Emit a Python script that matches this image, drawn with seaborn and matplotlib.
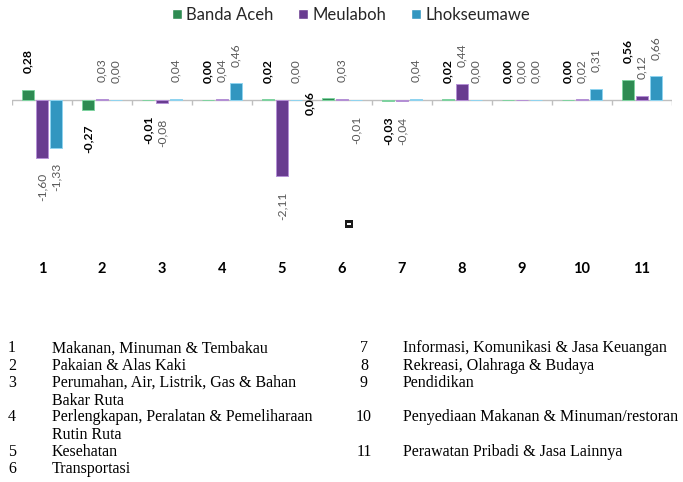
import numpy as np
import pandas as pd
import matplotlib
matplotlib.use("Agg")
import matplotlib.pyplot as plt
from matplotlib.patches import Rectangle
import seaborn as sns

# ---- data -------------------------------------------------------------
categories = ["1", "2", "3", "4", "5", "6", "7", "8", "9", "10", "11"]
series_names = ["Banda Aceh", "Meulaboh", "Lhokseumawe"]
banda_aceh = [0.28, -0.27, -0.01, 0.00, 0.02, 0.06, -0.03, 0.02, 0.00, 0.00, 0.56]
meulaboh = [-1.60, 0.03, -0.08, 0.04, -2.11, 0.03, -0.04, 0.44, 0.00, 0.02, 0.12]
lhokseumawe = [-1.33, 0.00, 0.04, 0.46, 0.00, -0.01, 0.04, 0.00, 0.00, 0.31, 0.66]

group_numbers = ["1", "2", "3", "4", "5", "6", "7", "8", "9", "10", "11"]
group_names = [
    "Makanan, Minuman & Tembakau",
    "Pakaian & Alas Kaki",
    "Perumahan, Air, Listrik, Gas & Bahan\nBakar Ruta",
    "Perlengkapan, Peralatan & Pemeliharaan\nRutin Ruta",
    "Kesehatan",
    "Transportasi",
    "Informasi, Komunikasi & Jasa Keuangan",
    "Rekreasi, Olahraga & Budaya",
    "Pendidikan",
    "Penyediaan Makanan & Minuman/restoran",
    "Perawatan Pribadi & Jasa Lainnya",
]

values = [banda_aceh, meulaboh, lhokseumawe]
df = pd.DataFrame({
    "kelompok": np.repeat([categories], 3, axis=0).ravel(),
    "kota": np.repeat(series_names, len(categories)),
    "inflasi": np.concatenate(values),
})

# ---- style ------------------------------------------------------------
sns.set_theme(style="white")
plt.rcParams["font.family"] = ["Lato", "DejaVu Sans"]

colors = ["#1E9B4E", "#6A2E9E", "#1A9FD8"]
edge_colors = ["#7FD3A0", "#B590D6", "#8FD4F0"]

W, H = 683, 482
fig = plt.figure(figsize=(W / 100, H / 100), dpi=100)

ax_left, ax_right, ax_top, ax_bottom = 12, 672, 30, 255
ax = fig.add_axes([ax_left / W, 1 - ax_bottom / H,
                   (ax_right - ax_left) / W, (ax_bottom - ax_top) / H])

px_per_unit = 36.0
zero_y = 100
ax.set_ylim(-(ax_bottom - zero_y) / px_per_unit, (zero_y - ax_top) / px_per_unit)

sns.barplot(data=df, x="kelompok", y="inflasi", hue="kota",
            hue_order=series_names, order=categories,
            palette=colors, width=0.7, gap=0.14, ax=ax, legend=True)
ax.set_xlim(-0.5, len(categories) - 0.5)

for cont, ec in zip(ax.containers, edge_colors):
    for bar in cont:
        bar.set_edgecolor(ec)
        bar.set_linewidth(0.7)

# zero line with group separators
n = len(categories)
ax.axhline(0, color="#BFBFBF", lw=1.0, zorder=0.5)
ax.vlines(np.arange(n + 1) - 0.5, -5 / px_per_unit, 0, color="#BFBFBF", lw=1.0)

# value labels
label_nudge = {(0, 5): (-13, -2)}
for si, (cont, vals) in enumerate(zip(ax.containers, values)):
    for ci, (bar, v) in enumerate(zip(cont, vals)):
        x = bar.get_x() + bar.get_width() / 2
        txt = f"{v:.2f}".replace(".", ",")
        style = dict(rotation=90, ha="center", fontsize=8.7,
                     color="black" if si == 0 else "#595959",
                     fontweight="bold" if si == 0 else "normal")
        if (si, ci) in label_nudge:
            dx, dy = label_nudge[(si, ci)]
            ax.annotate(txt, (x, 0), xytext=(dx, dy), textcoords="offset points",
                        va="center", **style)
        elif v >= 0:
            ax.annotate(txt, (x, v), xytext=(0, 12), textcoords="offset points",
                        va="bottom", **style)
        else:
            ax.annotate(txt, (x, v), xytext=(0, -11), textcoords="offset points",
                        va="top", **style)

ax.set_xlabel("")
ax.set_ylabel("")
ax.set_yticks([])
ax.tick_params(axis="x", length=0, pad=5)
for lab in ax.get_xticklabels():
    lab.set_fontweight("bold")
    lab.set_fontsize(10.5)
    lab.set_color("black")
for s in ax.spines.values():
    s.set_visible(False)

# legend on top
handles, labels = ax.get_legend_handles_labels()
ax.legend_.remove()
fig.legend(handles, labels, loc="center", bbox_to_anchor=(351 / W, 1 - 15 / H),
           ncol=3, frameon=False, fontsize=12, handlelength=0.6, handleheight=0.6,
           handletextpad=0.25, columnspacing=1.5, borderaxespad=0)

# small marker box below the chart
fig.add_artist(Rectangle((345 / W, 1 - 228 / H), 8 / W, 8 / H,
                         transform=fig.transFigure, facecolor="#1a1a1a",
                         edgecolor="none"))
fig.add_artist(Rectangle((347 / W, 1 - 224.5 / H), 4 / W, 1.2 / H,
                         transform=fig.transFigure, facecolor="white",
                         edgecolor="none"))

# category key below the chart
serif = dict(family="Liberation Serif", fontsize=11.5, color="black")
line0, dy = 348.5, 17.2
rows_left = [0, 1, 2, 4, 6, 7]      # line index for groups 1..6
rows_right = [0, 1, 2, 4, 6]        # line index for groups 7..11
for k, row in enumerate(rows_left):
    y = 1 - (line0 + row * dy) / H
    fig.text(12 / W, y, group_numbers[k], ha="center", va="center", **serif)
    fig.text(52 / W, 1 - (line0 + row * dy - 8) / H, group_names[k], ha="left",
             va="top", linespacing=1.18, **serif)
for k, row in enumerate(rows_right):
    idx = 6 + k
    y = 1 - (line0 + row * dy) / H
    fig.text(364 / W, y, group_numbers[idx], ha="center", va="center", **serif)
    fig.text(403 / W, 1 - (line0 + row * dy - 8) / H, group_names[idx], ha="left",
             va="top", linespacing=1.18, **serif)

fig.savefig("out.png", dpi=100)
